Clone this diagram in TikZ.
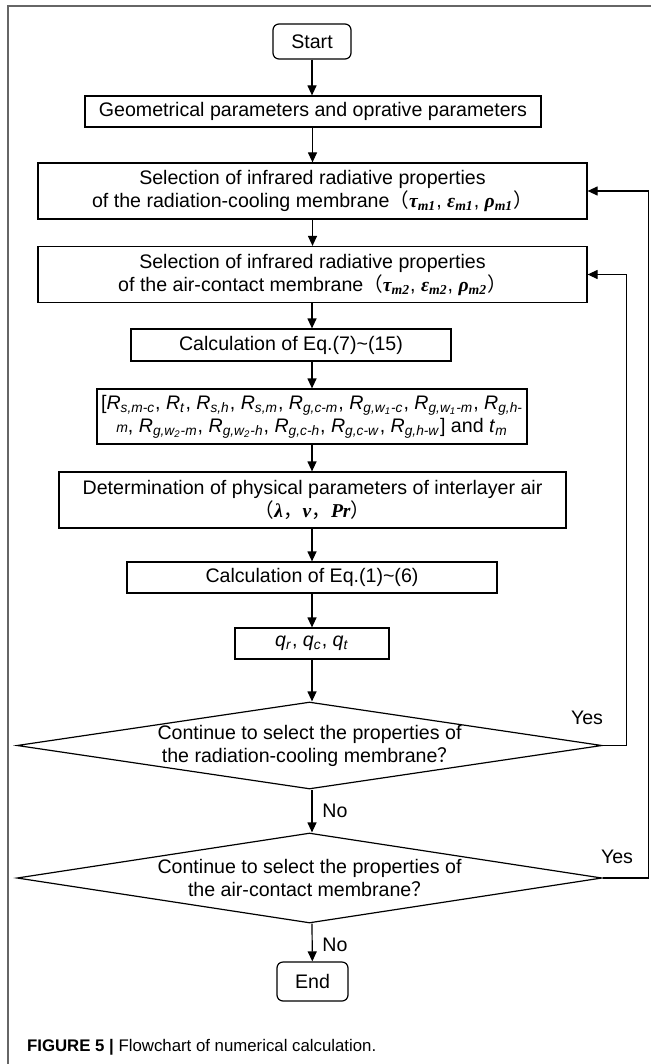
\documentclass[tikz,border=0pt]{standalone}
\usepackage{fontspec}
\setmainfont{Liberation Sans}
\newfontfamily\grk{Liberation Serif}
\newfontfamily\cjk{Noto Sans CJK SC}
\usetikzlibrary{arrows.meta,shapes.geometric}

\newcommand{\Rsub}[1]{\textit{R}\textsubscript{\textit{#1}}}
\newcommand{\prop}[2]{{\grk\bfseries\itshape #1\textsubscript{#2}}}

\begin{document}
\begin{tikzpicture}[x=0.5pt,y=-0.5pt,
    flow/.style={draw,line width=0.6pt,align=center,inner sep=2pt,font=\fontsize{9.8}{11.5}\selectfont},
    term/.style={flow,rounded corners=3pt},
    decide/.style={draw,line width=0.6pt,diamond,inner sep=0pt},
    lbl/.style={font=\fontsize{9.8}{11.5}\selectfont},
    arr/.style={line width=0.6pt,-{Triangle[length=5pt,width=4.5pt]}}]
    \useasboundingbox (0,0) rectangle (651,1064);
    \draw[line width=0.6pt,black!60] (8,1064) -- (8,6) -- (651,6);
    \begin{scope}
      \node[term,minimum width=39pt,minimum height=17.5pt] (start) at (312,41.5) {Start};
      \node[flow,minimum width=228pt,minimum height=15.5pt] (geom) at (313,111.5) {Geometrical parameters and oprative parameters};
      \node[flow,minimum width=274.5pt,minimum height=28pt] (sel1) at (312.5,191) {Selection of infrared radiative properties\\of the radiation-cooling membrane{\cjk （}\prop{τ}{m1}, \prop{ε}{m1}, \prop{ρ}{m1}{\cjk ）}};
      \node[flow,minimum width=274.5pt,minimum height=28pt] (sel2) at (312.5,274.5) {Selection of infrared radiative properties\\of the air-contact membrane{\cjk （}\prop{τ}{m2}, \prop{ε}{m2}, \prop{ρ}{m2}{\cjk ）}};
      \node[flow,minimum width=160pt,minimum height=16pt] (calc1) at (291,345) {Calculation of Eq.(7)\textasciitilde(15)};
      \node[flow,minimum width=209pt,minimum height=27.5pt] (rbox) at (312,416.5) {[\Rsub{s,m-c}, \Rsub{t}, \Rsub{s,h}, \Rsub{s,m}, \Rsub{g,c-m}, \Rsub{g,w\textsubscript{1}-c}, \Rsub{g,w\textsubscript{1}-m}, \Rsub{g,h-}\\{\scriptsize\itshape m}, \Rsub{g,w\textsubscript{2}-m}, \Rsub{g,w\textsubscript{2}-h}, \Rsub{g,c-h}, \Rsub{g,c-w}, \Rsub{g,h-w}] and \textit{t}\textsubscript{\textit{m}}};
      \node[flow,minimum width=253.5pt,minimum height=28pt] (det) at (312.5,500) {Determination of physical parameters of interlayer air\\{\cjk （}{\grk\bfseries\itshape λ}{\cjk ，}{\grk\bfseries\itshape v}{\cjk ，}{\grk\bfseries\itshape Pr}{\cjk ）}};
      \node[flow,minimum width=185pt,minimum height=15.5pt] (calc2) at (312,577.5) {Calculation of Eq.(1)\textasciitilde(6)};
      \node[flow,minimum width=77pt,minimum height=15.5pt] (qbox) at (312,643.5) {\textit{q}\textsubscript{\textit{r}}, \textit{q}\textsubscript{\textit{c}}, \textit{q}\textsubscript{\textit{t}}};
      \node[decide,minimum width=292.5pt,minimum height=43.5pt] (dec1) at (309.5,745.5) {};
      \node[lbl,align=center] (dec1txt) at (dec1) {Continue to select the properties of\\the radiation-cooling membrane{\cjk ？}};
      \node[decide,minimum width=292.5pt,minimum height=45pt] (dec2) at (309.5,878) {};
      \node[lbl,align=center] (dec2txt) at (dec2) {Continue to select the properties of\\the air-contact membrane{\cjk ？}};
      \node[term,minimum width=35.5pt,minimum height=19.5pt] (end) at (312.5,981.5) {End};
      \node[lbl] (yes1) at (587,718) {Yes};
      \node[lbl] (yes2) at (617,857) {Yes};
      \node[lbl] (no1) at (335,811) {No};
      \node[lbl] (no2) at (335,945) {No};
      \node[anchor=west,font=\fontsize{8.4}{10}\selectfont] (caption) at (20,1047) {\textbf{FIGURE 5 |} Flowchart of numerical calculation.};
    \end{scope}
    \begin{scope}[every edge/.style={draw,arr}]
      \path (start) edge (start |- geom.north);
      \path (geom.south -| sel1) edge (sel1);
      \path (sel1) edge (sel2);
      \path (sel2.south -| start) edge (start |- calc1.north);
      \path (calc1.south -| rbox) edge (rbox);
      \path (rbox) edge (rbox |- det.north);
      \path (det.south -| calc2) edge (calc2);
      \path (calc2) edge (qbox);
      \path (qbox) edge (qbox |- dec1.north);
      \path (dec1.south -| qbox) edge (qbox |- dec2.north);
      \path (dec2.south -| qbox) edge (end);
    \end{scope}
    \draw[arr] (dec1.east) -- ++(24,0) |- (sel2.east);
    \draw[arr] (dec2.east) -- ++(46,0) |- (sel1.east);
  \end{tikzpicture}
\end{document}
